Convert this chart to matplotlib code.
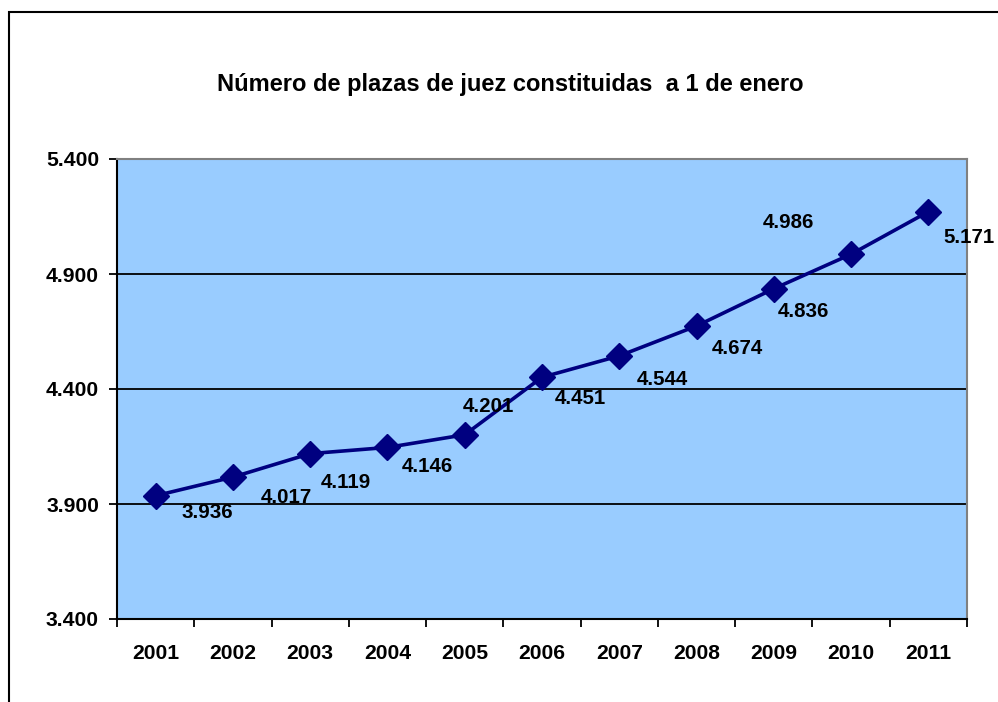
import matplotlib
matplotlib.use("Agg")
import matplotlib.pyplot as plt
from matplotlib.patches import Rectangle
from matplotlib.ticker import FuncFormatter, FixedLocator, NullFormatter

years = ["2001", "2002", "2003", "2004", "2005", "2006", "2007", "2008", "2009", "2010", "2011"]
values = [3936, 4017, 4119, 4146, 4201, 4451, 4544, 4674, 4836, 4986, 5171]
labels = ["3.936", "4.017", "4.119", "4.146", "4.201", "4.451", "4.544", "4.674", "4.836", "4.986", "5.171"]
title = "Número de plazas de juez constituidas  a 1 de enero"

# label offsets in pixels (dx, dy), relative to marker
offsets = [(52, -17), (53, -20), (36, -29), (40, -19), (24, 28), (38, -21),
           (43, -24), (41, -23), (30, -23), (-63, 32), (41, -26)]

plt.rcParams['font.family'] = ['Liberation Sans', 'DejaVu Sans']

W, H = 998, 702
fig = plt.figure(figsize=(W / 100, H / 100), dpi=100)
fig.patch.set_facecolor("white")

# outer frame
fig.add_artist(Rectangle((9 / W, -0.1), 1.2, (H - 12) / H + 0.1, transform=fig.transFigure,
                         fill=False, edgecolor="black", linewidth=1.5))

ax = fig.add_axes([117 / W, 1 - 619 / H, (967 - 117) / W, (619 - 159) / H])
ax.set_facecolor("#99CCFF")

x = list(range(len(years)))
ax.plot(x, values, color="#000080", linewidth=2.6, marker="D", markersize=13,
        markerfacecolor="#000080", markeredgecolor="#000080", zorder=3)

for xi, v, lab, (dx, dy) in zip(x, values, labels, offsets):
    ax.annotate(lab, (xi, v), xytext=(dx, dy), textcoords="offset pixels",
                ha="center", va="center", fontsize=14.8, fontweight="bold",
                color="black", annotation_clip=False, zorder=4)

ax.set_xlim(-0.5, len(years) - 0.5)
ax.set_ylim(3400, 5400)
ax.set_yticks([3400, 3900, 4400, 4900, 5400])
ax.yaxis.set_major_formatter(FuncFormatter(lambda v, p: f"{int(v):,}".replace(",", ".")))
ax.grid(axis="y", color="black", linewidth=1.3)
ax.set_axisbelow(True)

ax.xaxis.set_major_locator(FixedLocator([i - 0.5 for i in range(len(years) + 1)]))
ax.xaxis.set_major_formatter(NullFormatter())
ax.xaxis.set_minor_locator(FixedLocator(x))
ax.set_xticklabels(years, minor=True)
ax.tick_params(axis="x", which="minor", length=0, pad=18, labelsize=15.2)
ax.tick_params(axis="x", which="major", length=6, width=1.3, direction="out")
ax.tick_params(axis="y", length=6, width=1.3, direction="out", labelsize=15.2, pad=7)
for t in ax.get_xticklabels(minor=True) + ax.get_yticklabels():
    t.set_fontweight("bold")

ax.spines["left"].set_color("black")
ax.spines["bottom"].set_color("black")
ax.spines["left"].set_linewidth(1.5)
ax.spines["bottom"].set_linewidth(1.5)
ax.spines["top"].set_color("#808080")
ax.spines["right"].set_color("#808080")
ax.spines["top"].set_linewidth(1.5)
ax.spines["right"].set_linewidth(1.5)

fig.text(510 / W, 1 - 84 / H, title, ha="center", va="center", fontsize=17, fontweight="bold")

fig.savefig("out.png", dpi=100)
